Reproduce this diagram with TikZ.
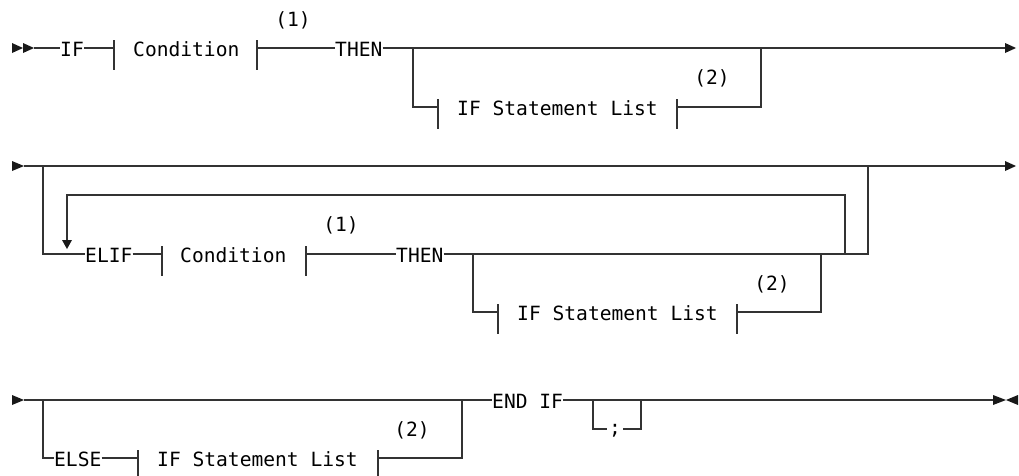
\documentclass[tikz,border=0pt]{standalone}
\usepackage{fontspec}
\setmonofont{DejaVu Sans Mono}
\begin{document}
\begin{tikzpicture}[x=1pt,y=-1pt,
  rail/.style={draw=black!80, line width=1.2pt},
  kw/.style={font=\ttfamily\fontsize{19.6}{22}\selectfont, inner sep=0pt, anchor=base west},
  semis/.style={font=\ttfamily\fontsize{19.6}{22}\selectfont, inner xsep=2pt, inner ysep=0pt, anchor=base},
  fn/.style={font=\ttfamily\fontsize{19.6}{22}\selectfont, inner sep=0pt, anchor=center},
  tip/.style={fill=black!90},
  railbar/.style={rail}]
\useasboundingbox (0,0) rectangle (1019,475);

% ---------- Row 1 ----------
\fill[tip] (12,43) -- (23,48) -- (12,53) -- cycle;
\fill[tip] (23,43) -- (34,48) -- (23,53) -- cycle;
\coordinate (a1) at (34,48);
\node[kw] (if1) at (60,56) {IF};
\coordinate (c1l) at (114,48);
\node[kw] (cond1) at (133,56) {Condition};
\coordinate (c1r) at (257,48);
\node[fn] (n1a) at (293,20) {(1)};
\node[kw] (then1) at (335,56) {THEN};
\coordinate (j1a) at (413,48);
\coordinate (j1b) at (413,107);
\coordinate (l1l) at (438,107);
\node[kw] (isl1) at (457,115) {IF Statement List};
\coordinate (l1r) at (677,107);
\node[fn] (n2a) at (712,78) {(2)};
\coordinate (j1c) at (761,107);
\coordinate (j1d) at (761,48);
\coordinate (e1) at (1005,48);
\fill[tip] (1005,43) -- (1016,48) -- (1005,53) -- cycle;

\draw[rail] (a1) -- (if1.west |- a1);
\draw[rail] (if1.east |- a1) -- (c1l);
\draw[railbar] ([yshift=8pt]c1l) -- ([yshift=-22pt]c1l);
\draw[railbar] ([yshift=8pt]c1r) -- ([yshift=-22pt]c1r);
\draw[rail] (c1r) -- (then1.west |- c1r);
\draw[rail] (then1.east |- a1) -- (e1);
\draw[rail] (j1a) -- (j1b) -- (l1l);
\draw[railbar] ([yshift=8pt]l1l) -- ([yshift=-22pt]l1l);
\draw[railbar] ([yshift=8pt]l1r) -- ([yshift=-22pt]l1r);
\draw[rail] (l1r) -- (j1c) -- (j1d);

% ---------- Row 2 ----------
\fill[tip] (12,161) -- (24,166) -- (12,171) -- cycle;
\coordinate (a2) at (24,166);
\coordinate (e2) at (1005,166);
\fill[tip] (1005,161) -- (1016,166) -- (1005,171) -- cycle;
\draw[rail] (a2) -- (e2);
\coordinate (b2a) at (43,166);
\coordinate (b2b) at (43,254);
\node[kw] (elif) at (85,262) {ELIF};
\draw[rail] (b2a) -- (b2b) -- (elif.west |- b2b);
% repeat loop
\coordinate (lp1) at (845,254);
\coordinate (lp2) at (845,195);
\coordinate (lp3) at (67,195);
\coordinate (lp4) at (67,240);
\draw[rail] (lp1) -- (lp2) -- (lp3) -- (lp4);
\fill[tip] (62,240) -- (72,240) -- (67,249) -- cycle;
\coordinate (c2l) at (162,254);
\node[kw] (cond2) at (180,262) {Condition};
\coordinate (c2r) at (306,254);
\node[fn] (n1b) at (341,225) {(1)};
\node[kw] (then2) at (396,262) {THEN};
\draw[rail] (elif.east |- b2b) -- (c2l);
\draw[railbar] ([yshift=8pt]c2l) -- ([yshift=-22pt]c2l);
\draw[railbar] ([yshift=8pt]c2r) -- ([yshift=-22pt]c2r);
\draw[rail] (c2r) -- (then2.west |- c2r);
\coordinate (j2a) at (868,254);
\coordinate (j2b) at (868,166);
\draw[rail] (then2.east |- c2r) -- (j2a) -- (j2b);
\coordinate (k2a) at (473,254);
\coordinate (k2b) at (473,312);
\coordinate (l2l) at (498,312);
\node[kw] (isl2) at (517,320) {IF Statement List};
\coordinate (l2r) at (737,312);
\node[fn] (n2b) at (772,284) {(2)};
\coordinate (k2c) at (821,312);
\coordinate (k2d) at (821,254);
\draw[rail] (k2a) -- (k2b) -- (l2l);
\draw[railbar] ([yshift=8pt]l2l) -- ([yshift=-22pt]l2l);
\draw[railbar] ([yshift=8pt]l2r) -- ([yshift=-22pt]l2r);
\draw[rail] (l2r) -- (k2c) -- (k2d);

% ---------- Row 3 ----------
\fill[tip] (12,395) -- (24,400) -- (12,405) -- cycle;
\coordinate (a3) at (24,400);
\node[kw] (endif) at (492,408) {END IF};
\draw[rail] (a3) -- (endif.west |- a3);
\coordinate (b3a) at (43,400);
\coordinate (b3b) at (43,458);
\node[kw] (else) at (54,466) {ELSE};
\draw[rail] (b3a) -- (b3b) -- (else.west |- b3b);
\coordinate (l3l) at (138,458);
\node[kw] (isl3) at (157,466) {IF Statement List};
\coordinate (l3r) at (378,458);
\node[fn] (n2c) at (412,430) {(2)};
\coordinate (k3c) at (462,458);
\coordinate (k3d) at (462,400);
\draw[rail] (else.east |- b3b) -- (l3l);
\draw[railbar] ([yshift=8pt]l3l) -- ([yshift=-22pt]l3l);
\draw[railbar] ([yshift=8pt]l3r) -- ([yshift=-22pt]l3r);
\draw[rail] (l3r) -- (k3c) -- (k3d);
\coordinate (sa) at (593,400);
\coordinate (sb) at (593,429);
\node[semis] (semi) at (615,434) {;};
\coordinate (sc) at (641,429);
\coordinate (sd) at (641,400);
\coordinate (e3) at (993,400);
\draw[rail] (endif.east |- a3) -- (e3);
\draw[rail] (sa) -- (sb) -- (semi.west |- sb);
\draw[rail] (semi.east |- sb) -- (sc) -- (sd);
\fill[tip] (993,395) -- (1006,400) -- (993,405) -- cycle;
\fill[tip] (1018,395) -- (1006,400) -- (1018,405) -- cycle;
\end{tikzpicture}
\end{document}
